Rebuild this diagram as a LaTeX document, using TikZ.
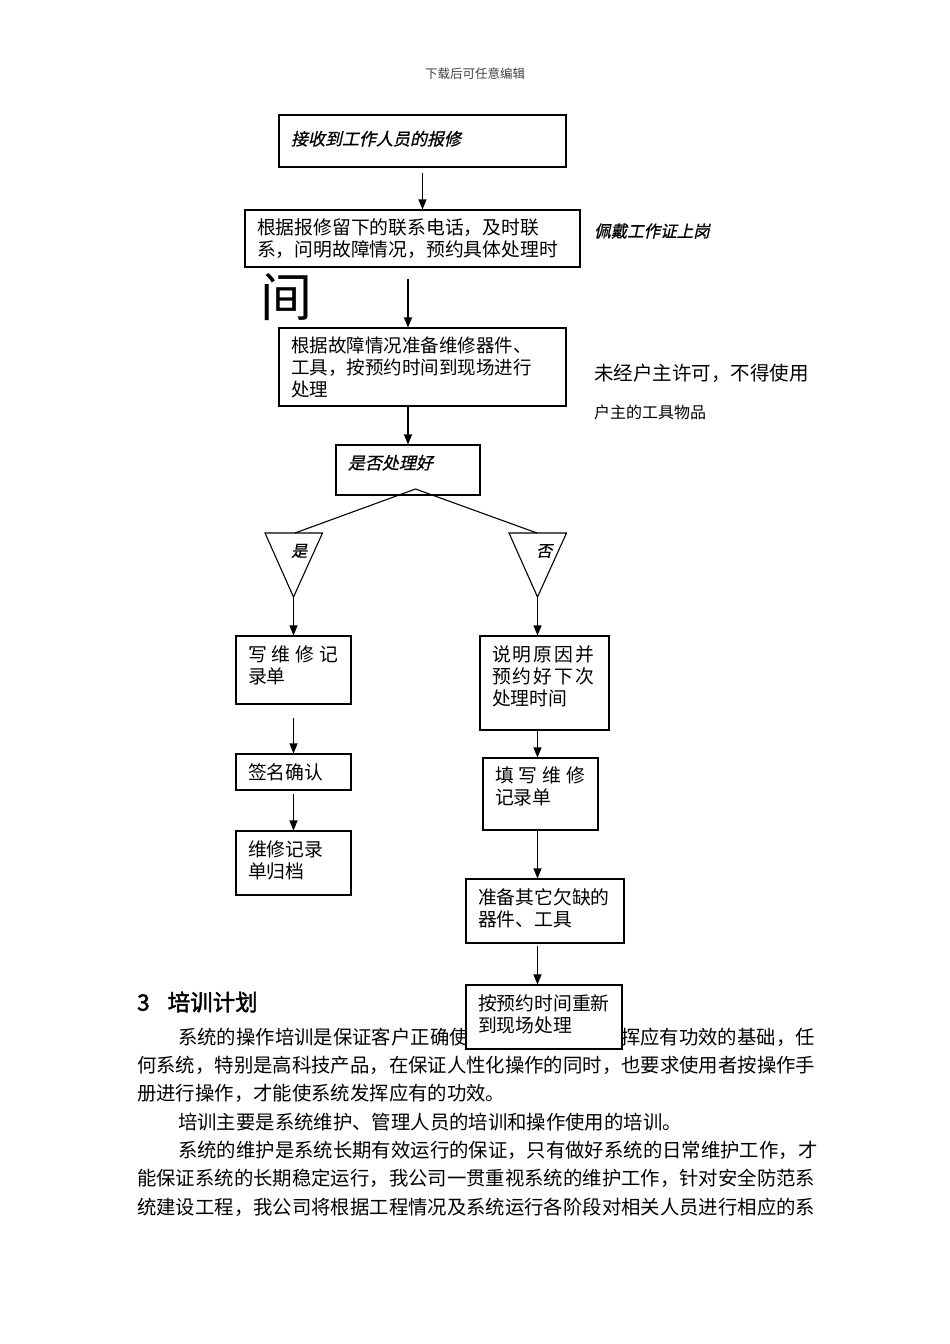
\documentclass[tikz,border=0pt]{standalone}
\usepackage{fontspec}
\setmainfont{Noto Sans CJK SC}
\newfontfamily\cjkit[FakeSlant=0.22,FakeBold=0.8]{Noto Sans CJK SC}
\newfontfamily\cjkbf[FakeBold=2]{Noto Sans CJK SC}
\usetikzlibrary{arrows.meta}
\newcommand{\cgap}{\hspace{5pt}}
\newcommand{\sgap}{\kern2pt}

\begin{document}
\begin{tikzpicture}[x=1pt, y=-1pt,
    box/.style={draw, line width=1.1pt, fill=white, inner xsep=12pt, inner ysep=0pt,
        align=left, font=\fontsize{18.8}{22}\selectfont},
    arr/.style={-{Triangle[length=10pt,width=8pt]}, line width=1.1pt},
    lbl/.style={inner sep=0pt, anchor=west},
    body/.style={inner sep=0pt, anchor=west, font=\fontsize{19.37}{23}\selectfont}]

    \useasboundingbox (0,0) rectangle (950,1344);

    \node[font=\fontsize{12.5}{14}\selectfont, text=black!75] (hdr) at (475,74) {下载后可任意编辑};

    % main column
    \node[box, text width=263pt, minimum height=52pt, text depth=6pt, font=\cjkit\fontsize{17}{20}\selectfont] (recv) at (422.5,141) {接收到工作人员的报修};
    \node[box, text width=311pt, minimum height=57pt] (contact) at (412.5,238.5)
        {根据报修留下的联系电话，及时联\\系，问明故障情况，预约具体处理时};
    \node[inner sep=0pt, font=\fontsize{52}{52}\selectfont] (jian) at (286,297) {间};
    \node[box, text width=263pt, minimum height=78pt, font=\fontsize{18.5}{22}\selectfont] (prep) at (422.5,367)
        {根据故障情况准备维修器件、\\工具，按预约时间到现场进行\\处理};
    \node[box, text width=120pt, minimum height=50pt, text depth=16pt, font=\cjkit\fontsize{17}{20}\selectfont] (check) at (408,470) {是否处理好};

    % side notes
    \node[lbl, font=\cjkit\fontsize{16.5}{18}\selectfont] (badge) at (594,231) {佩戴工作证上岗};
    \node[lbl, font=\fontsize{19.5}{22}\selectfont] (perm1) at (594,373) {未经户主许可，不得使用};
    \node[lbl, font=\fontsize{16}{18}\selectfont] (perm2) at (594,412) {户主的工具物品};

    % decision
    \coordinate (fork) at (415.5,489);
    \coordinate (yesT) at (295,533);
    \coordinate (noT) at (537,533);
    \coordinate (yesA) at (293.5,597);
    \coordinate (noA) at (537.5,597);
    \draw[line width=1.1pt] (265,533) -- (322.5,533) -- (yesA) -- cycle;
    \draw[line width=1.1pt] (509,533) -- (566.5,533) -- (noA) -- cycle;
    \draw[line width=1.1pt] (yesT) -- (fork) -- (noT);
    \node[lbl, font=\cjkit\fontsize{16}{18}\selectfont] (yes) at (291,551) {是};
    \node[lbl, font=\cjkit\fontsize{16}{18}\selectfont] (no) at (536,551) {否};

    % yes branch
    \node[box, text width=91pt, minimum height=68pt, text depth=32pt] (wrt) at (293.5,670) {写\cgap 维\cgap 修\cgap 记\\录单};
    \node[box, text width=91pt, minimum height=36pt] (sign) at (293.5,772) {签名确认};
    \node[box, text width=91pt, minimum height=64pt, text depth=28pt] (file) at (293.5,863) {维修记录\\单归档};

    % no branch
    \node[box, text width=105pt, minimum height=94pt, text depth=58pt] (why) at (544.5,683)
        {说\sgap 明\sgap 原\sgap 因\sgap 并\\预\sgap 约\sgap 好\sgap 下\sgap 次\\处理时间};
    \node[box, text width=91pt, minimum height=72pt, text depth=38pt] (fill) at (540.5,794) {填\cgap 写\cgap 维\cgap 修\\记录单};
    \node[box, text width=134pt, minimum height=64pt, text depth=28pt] (parts) at (545,911) {准备其它欠缺的\\器件、工具};

    % section text
    \node[lbl, font=\cjkbf\fontsize{22.5}{24}\selectfont] (head) at (137,1002) {3\hspace{18pt}培训计划};
    \node[body] (l1a) at (178,1037) {系统的操作培训是保证客户正确使};
    \node[body, anchor=east] (l1b) at (815,1037) {挥应有功效的基础，任};
    \node[body] (l2) at (137,1065) {何系统，特别是高科技产品，在保证人性化操作的同时，也要求使用者按操作手};
    \node[body] (l3) at (137,1093.5) {册进行操作，才能使系统发挥应有的功效。};
    \node[body] (l4) at (178,1122) {培训主要是系统维护、管理人员的培训和操作使用的培训。};
    \node[body] (l5) at (178,1150) {系统的维护是系统长期有效运行的保证，只有做好系统的日常维护工作，才};
    \node[body] (l6) at (137,1178.5) {能保证系统的长期稳定运行，我公司一贯重视系统的维护工作，针对安全防范系};
    \node[body] (l7) at (137,1207) {统建设工程，我公司将根据工程情况及系统运行各阶段对相关人员进行相应的系};

    \node[box, text width=132pt, minimum height=64pt, text depth=28pt] (redo) at (544,1017) {按预约时间重新\\到现场处理};

    % arrows
    \draw[arr, shorten <=5pt] (recv.south) -- (recv.south |- contact.north);
    \draw[arr, shorten <=11pt] (contact.south -| check.north) -- (check.north |- prep.north);
    \draw[arr] (check.north |- prep.south) -- (check.north);
    \draw[arr] (yesA) -- (yesA |- wrt.north);
    \draw[arr] (noA) -- (noA |- why.north);
    \draw[arr, shorten <=13pt] (wrt.south) -- (sign.north);
    \draw[arr, shorten <=3pt] (sign.south) -- (file.north);
    \draw[arr] (noA |- why.south) -- (noA |- fill.north);
    \draw[arr] (noA |- fill.south) -- (noA |- parts.north);
    \draw[arr, shorten <=2pt] (noA |- parts.south) -- (noA |- redo.north);
\end{tikzpicture}
\end{document}
